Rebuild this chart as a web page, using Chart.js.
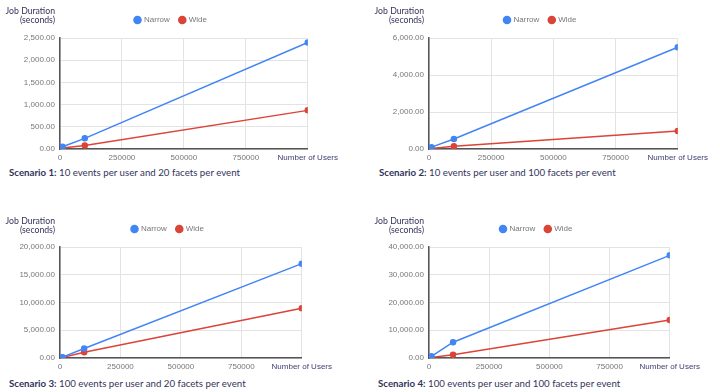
<!DOCTYPE html>
<html>
<head>
<meta charset="utf-8">
<script src="https://cdn.jsdelivr.net/npm/chart.js@4.4.1/dist/chart.umd.min.js"></script>
<style>
  body { margin: 0; background: #fff; width: 720px; height: 392px; position: relative; overflow: hidden; }
  .box { position: absolute; }
  .ytitle { position: absolute; font-family: Lato, sans-serif; font-size: 8.7px; line-height: 9px; color: #33335a; text-align: right; width: 80px; }
  .caption { position: absolute; font-family: Lato, sans-serif; font-size: 9.7px; color: #33335a; white-space: nowrap; }
  .caption b { font-weight: 700; }
</style>
</head>
<body>

<div class="box" style="left:0;top:0;width:342px;height:165px"><canvas id="chart1"></canvas></div>
<div class="box" style="left:369px;top:0;width:343px;height:165px"><canvas id="chart2"></canvas></div>
<div class="box" style="left:0;top:209px;width:336px;height:165px"><canvas id="chart3"></canvas></div>
<div class="box" style="left:369px;top:209px;width:335px;height:165px"><canvas id="chart4"></canvas></div>

<div class="ytitle" style="left:-25px;top:6px">Job Duration<br>(seconds)</div>
<div class="ytitle" style="left:344px;top:6px">Job Duration<br>(seconds)</div>
<div class="ytitle" style="left:-25px;top:216px">Job Duration<br>(seconds)</div>
<div class="ytitle" style="left:344px;top:216px">Job Duration<br>(seconds)</div>

<div class="caption" style="left:9px;top:166px"><b>Scenario 1:</b> 10 events per user and 20 facets per event</div>
<div class="caption" style="left:379px;top:166px"><b>Scenario 2:</b> 10 events per user and 100 facets per event</div>
<div class="caption" style="left:9px;top:377px"><b>Scenario 3:</b> 100 events per user and 20 facets per event</div>
<div class="caption" style="left:378px;top:377px"><b>Scenario 4:</b> 100 events per user and 100 facets per event</div>

<script>
// data
var users = [10000, 100000, 1000000];

var narrow1 = [50, 240, 2400];
var wide1 = [20, 80, 870];

var narrow2 = [100, 540, 5500];
var wide2 = [30, 150, 970];

var narrow3 = [150, 1700, 17000];
var wide3 = [100, 1050, 8950];

var narrow4 = [600, 5700, 37000];
var wide4 = [200, 1150, 13700];

var yMax = [2500, 6000, 20000, 40000];
var yStep = [500, 2000, 5000, 10000];
var xTicks = [0, 250000, 500000, 750000, 1000000];
var xLastLabel = 'Number of Users';

Chart.defaults.font.family = "'Liberation Sans', Arial, sans-serif";
Chart.defaults.font.size = 8;

// leave a bit of room under the legend
var legendGap = {
    id: 'legendGap',
    beforeInit: function(chart) {
        var fit = chart.legend.fit;
        chart.legend.fit = function() {
            fit.call(this);
            this.height += 4;
        };
    }
};

function points(vals) {
    return users.map(function(u, i) { return { x: u, y: vals[i] }; });
}

function makeChart(id, narrow, wide, max, step) {
    var ctx = document.getElementById(id).getContext('2d');
    return new Chart(ctx, {
        type: 'line',
        data: {
            datasets: [
                {
                    label: 'Narrow',
                    data: points(narrow),
                    borderColor: '#4285f4',
                    backgroundColor: '#4285f4',
                    borderWidth: 1.5,
                    pointRadius: 2.5,
                    pointHoverRadius: 2.5,
                },
                {
                    label: 'Wide',
                    data: points(wide),
                    borderColor: '#db4437',
                    backgroundColor: '#db4437',
                    borderWidth: 1.5,
                    pointRadius: 2.5,
                    pointHoverRadius: 2.5,
                },
            ],
        },
        options: {
            responsive: true,
            maintainAspectRatio: false,
            animation: false,
            layout: {
                padding: { top: 6, left: 0, right: 0, bottom: 0 }
            },
            scales: {
                x: {
                    type: 'linear',
                    min: 0,
                    max: 1000000,
                    afterBuildTicks: function(scale) {
                        scale.ticks = xTicks.map(function(v) { return { value: v }; });
                    },
                    afterFit: function(scale) { scale.height = 16; },
                    grid: {
                        color: '#e3e3e3',
                        drawTicks: false,
                    },
                    border: { color: '#555', width: 1.5 },
                    ticks: {
                        padding: 4,
                        maxRotation: 0,
                        autoSkip: false,
                        callback: function(v) {
                            return v === 1000000 ? xLastLabel : String(v);
                        },
                        color: function(c) {
                            return c.tick && c.tick.value === 1000000 ? '#3d3d6e' : '#777';
                        },
                    },
                },
                y: {
                    min: 0,
                    max: max,
                    afterFit: function(scale) { scale.width = 60; },
                    grid: {
                        color: '#e3e3e3',
                        drawTicks: false,
                    },
                    border: { color: '#555', width: 1.5 },
                    ticks: {
                        stepSize: step,
                        padding: 5,
                        color: '#777',
                        callback: function(v) {
                            return v.toLocaleString('en-US', { minimumFractionDigits: 2, maximumFractionDigits: 2 });
                        },
                    },
                },
            },
            plugins: {
                legend: {
                    display: true,
                    position: 'top',
                    labels: {
                        usePointStyle: true,
                        pointStyle: 'circle',
                        boxWidth: 5,
                        boxHeight: 5,
                        padding: 10,
                        color: '#777',
                    },
                },
                tooltip: { enabled: false },
            },
        },
        plugins: [legendGap],
    });
}

makeChart('chart1', narrow1, wide1, yMax[0], yStep[0]);
makeChart('chart2', narrow2, wide2, yMax[1], yStep[1]);
makeChart('chart3', narrow3, wide3, yMax[2], yStep[2]);
makeChart('chart4', narrow4, wide4, yMax[3], yStep[3]);
</script>
</body>
</html>
